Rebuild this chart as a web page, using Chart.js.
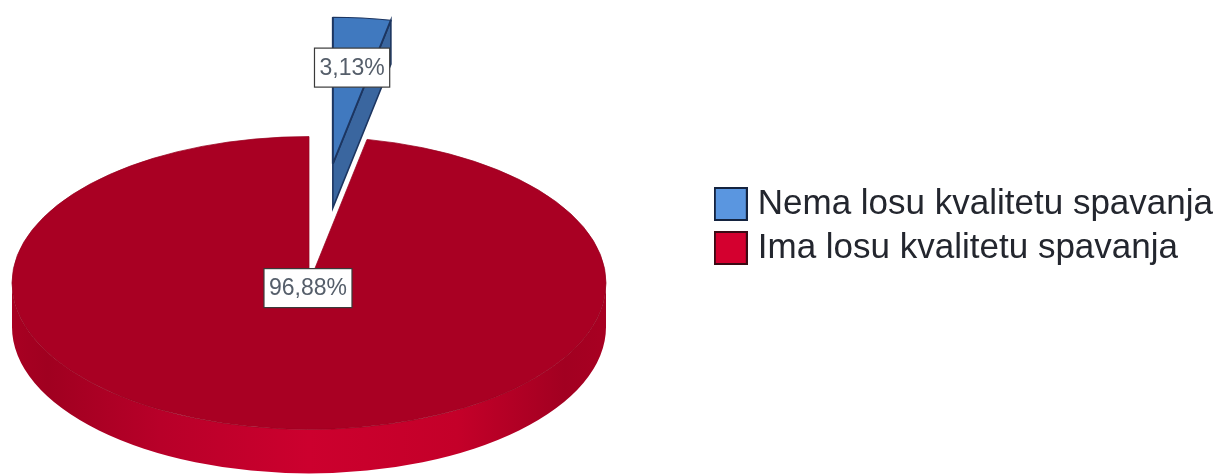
<!DOCTYPE html>
<html>
<head>
<meta charset="utf-8">
<script src="https://cdn.jsdelivr.net/npm/chart.js@4/dist/chart.umd.min.js"></script>
<style>
  html, body { margin: 0; background: #fff; overflow: hidden; }
  canvas { display: block; filter: blur(0.5px); }
</style>
</head>
<body>
<canvas id="sleepChart" width="1221" height="474"></canvas>
<script>
// Exploded 3D-look pie: Chart.js draws the slices, a plugin tilts them and adds the walls.
const categories = ["Nema losu kvalitetu spavanja", "Ima losu kvalitetu spavanja"];
const shares = [3.13, 96.88];
const sliceColors = ["#4079bf", "#a90023"];
const sliceBorders = ["#1c3560", "#98001f"];
const legendColors = ["#5a96e0", "#d4002f"];
const legendBorders = ["#14233f", "#3a0a14"];
const explode = [243, 0]; // how far each slice is pulled out of the pie
const labelReach = [0.66, 0.035]; // label distance from slice tip, as part of the radius

const FONT = "'Liberation Sans', Arial, sans-serif";
const RADIUS = 297;
const TILT = 0.493;
const DEPTH = 44;
const CX = 309;
const CY = 283;

function fmt(v) {
  return v.toFixed(2).replace(".", ",") + "%";
}

function swatch(fill, stroke) {
  const c = document.createElement("canvas");
  c.width = 34; c.height = 34;
  const g = c.getContext("2d");
  g.fillStyle = fill;
  g.fillRect(1, 1, 32, 32);
  g.strokeStyle = stroke;
  g.lineWidth = 2;
  g.strokeRect(1, 1, 32, 32);
  return c;
}

function pieCenter(chart) {
  const a = chart.chartArea;
  return { x: (a.left + a.right) / 2, y: (a.top + a.bottom) / 2 };
}

// slice tip in screen pixels, after the tilt
function tip(chart, el) {
  const c = pieCenter(chart);
  return { x: CX + el.x - c.x, y: CY + (el.y - c.y) * TILT };
}

function rimWall(ctx, el, o) {
  const from = Math.max(el.startAngle, 0);
  const to = Math.min(el.endAngle, Math.PI);
  if (to <= from) return;
  const g = ctx.createLinearGradient(o.x - RADIUS, 0, o.x + RADIUS, 0);
  g.addColorStop(0, "#a80022");
  g.addColorStop(0.06, "#a00020");
  g.addColorStop(0.25, "#b80029");
  g.addColorStop(0.5, "#cc002e");
  g.addColorStop(0.75, "#c40029");
  g.addColorStop(0.93, "#a20021");
  g.addColorStop(1, "#a80022");
  ctx.beginPath();
  ctx.ellipse(o.x, o.y, RADIUS, RADIUS * TILT, 0, from, to);
  ctx.ellipse(o.x, o.y + DEPTH, RADIUS, RADIUS * TILT, 0, to, from, true);
  ctx.closePath();
  ctx.fillStyle = g;
  ctx.fill();
}

function edgeWall(ctx, el, o, i) {
  const a = el.endAngle;
  if (Math.cos(a) <= 0.01) return;
  const ex = o.x + Math.cos(a) * RADIUS;
  const ey = o.y + Math.sin(a) * RADIUS * TILT;
  ctx.beginPath();
  ctx.moveTo(o.x, o.y);
  ctx.lineTo(ex, ey);
  ctx.lineTo(ex, ey + DEPTH);
  ctx.lineTo(o.x, o.y + DEPTH);
  ctx.closePath();
  ctx.fillStyle = "#3a669f";
  ctx.fill();
  ctx.strokeStyle = sliceBorders[i];
  ctx.lineWidth = 1.6;
  ctx.stroke();
}

const tiltPie = {
  id: "tiltPie",
  afterDatasetsUpdate(chart) {
    // the arc offset option also grows the radius of thin slices, so move the arcs directly
    chart.getDatasetMeta(0).data.forEach((el, i) => {
      const mid = (el.startAngle + el.endAngle) / 2;
      el.x += Math.cos(mid) * explode[i];
      el.y += Math.sin(mid) * explode[i];
    });
  },
  beforeDatasetsDraw(chart) {
    const { ctx } = chart;
    chart.getDatasetMeta(0).data.forEach((el, i) => {
      const o = tip(chart, el);
      rimWall(ctx, el, o);
      edgeWall(ctx, el, o, i);
    });
    const c = pieCenter(chart);
    ctx.save();
    ctx.translate(CX, CY);
    ctx.scale(1, TILT);
    ctx.translate(-c.x, -c.y);
  },
  afterDatasetsDraw(chart) {
    const { ctx } = chart;
    ctx.restore();
    ctx.font = "23px " + FONT;
    ctx.textAlign = "center";
    ctx.textBaseline = "middle";
    chart.getDatasetMeta(0).data.forEach((el, i) => {
      const o = tip(chart, el);
      const mid = (el.startAngle + el.endAngle) / 2;
      const x = o.x + Math.cos(mid) * RADIUS * labelReach[i];
      const y = o.y + Math.sin(mid) * RADIUS * TILT * labelReach[i];
      const text = fmt(shares[i]);
      const w = ctx.measureText(text).width + 10;
      const h = 39;
      ctx.fillStyle = "#fff";
      ctx.fillRect(x - w / 2, y - h / 2, w, h);
      ctx.strokeStyle = "#3a3a3a";
      ctx.lineWidth = 1.2;
      ctx.strokeRect(x - w / 2, y - h / 2, w, h);
      ctx.fillStyle = "#555e6a";
      ctx.fillText(text, x, y + 1);
    });
  },
};

new Chart(document.getElementById("sleepChart"), {
  type: "pie",
  plugins: [tiltPie],
  data: {
    labels: categories,
    datasets: [{
      data: shares,
      backgroundColor: sliceColors,
      borderColor: sliceBorders,
      borderWidth: [2, 1],
      clip: false,
    }],
  },
  options: {
    responsive: false,
    animation: false,
    radius: RADIUS,
    layout: { padding: { right: -2, bottom: 22 } },
    plugins: {
      tooltip: { enabled: false },
      legend: {
        position: "right",
        labels: {
          color: "#23262e",
          font: { family: FONT, size: 35 },
          usePointStyle: true,
          pointStyleWidth: 19,
          padding: 9,
          generateLabels: () => categories.map((text, i) => ({
            text,
            index: i,
            fontColor: "#23262e",
            lineWidth: 0,
            pointStyle: swatch(legendColors[i], legendBorders[i]),
          })),
        },
      },
    },
  },
});
</script>
</body>
</html>
